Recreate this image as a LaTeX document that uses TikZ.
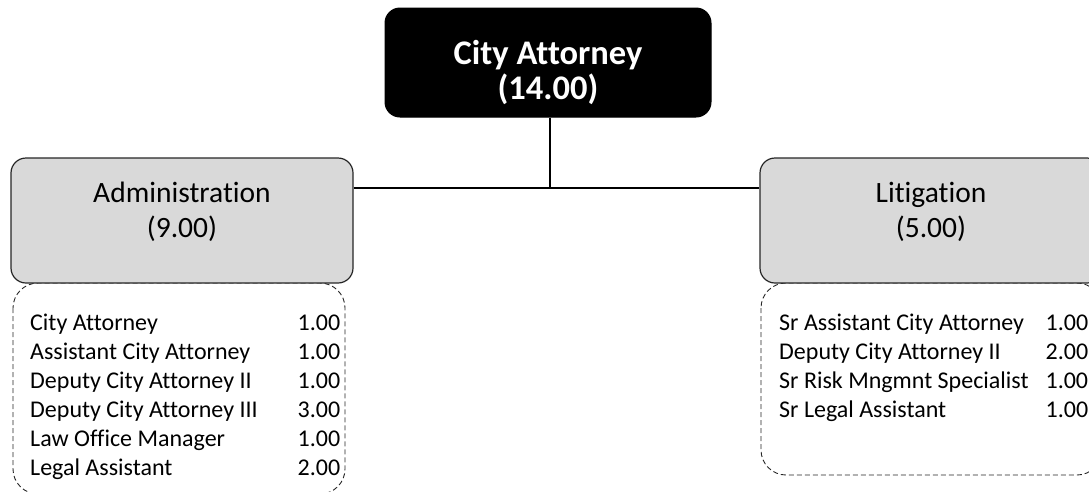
\documentclass[tikz,border=0pt]{standalone}
\usepackage{fontspec}
\setmainfont[Ligatures={NoCommon,NoRequired,NoContextual}]{Carlito}
\usepackage{array}
\begin{document}
\begin{tikzpicture}[x=1pt,y=-1pt,
  headbox/.style={draw=black, fill=black, rounded corners=15pt, line width=1pt,
    minimum width=326pt, minimum height=109pt, inner sep=0pt},
  headtext/.style={text=white, align=center, inner sep=0pt,
    font=\fontsize{34.5}{35}\selectfont\bfseries},
  unitbox/.style={draw=black!85, fill=black!15, rounded corners=15pt, line width=1.2pt,
    minimum width=342pt, minimum height=125pt, inner sep=0pt},
  unittext/.style={align=center, inner sep=0pt, font=\fontsize{29.5}{35}\selectfont},
  listframe/.style={draw=black!85, line width=0.9pt, dash pattern=on 5pt off 3pt,
    rounded corners=25pt},
  listtext/.style={anchor=base west, inner sep=0pt, font=\fontsize{24}{29}\selectfont},
  link/.style={draw=black, line width=1.3pt}]
\path[use as bounding box] (0,0) rectangle (1089,491);
\clip (0,0) rectangle (1089,491);

% position lists below each unit
\draw[listframe] (13,283) rectangle (345,494);
\draw[listframe] (761,283) rectangle (1102,475);

% head of the office
\node[headbox] (ca) at (548,62.5) {};
\node[headtext] (catext) at (548,72.5) {City Attorney\\(14.00)};

% units
\node[unitbox] (adm) at (182,220.5) {};
\node[unittext] (admtext) at (182,212) {Administration\\(9.00)};
\node[unitbox] (lit) at (931,220.5) {};
\node[unittext] (littext) at (931,212) {Litigation\\(5.00)};

% connectors
\coordinate (j) at (550,188);
\draw[link] (ca.south -| j) -- (j);
\draw[link] (adm.east |- j) -- (lit.west |- j);

% staffing lists
\node[listtext] (admlist) at (30,330) {%
  \begin{tabular*}{310pt}[t]{@{}l@{\extracolsep{\fill}}r@{}}
  City Attorney & 1.00\\
  Assistant City Attorney & 1.00\\
  Deputy City Attorney II & 1.00\\
  Deputy City Attorney III & 3.00\\
  Law Office Manager & 1.00\\
  Legal Assistant & 2.00
  \end{tabular*}};
\node[listtext] (litlist) at (779,330) {%
  \begin{tabular*}{309pt}[t]{@{}l@{\extracolsep{\fill}}r@{}}
  Sr Assistant City Attorney & 1.00\\
  Deputy City Attorney II & 2.00\\
  Sr Risk Mngmnt Specialist & 1.00\\
  Sr Legal Assistant & 1.00
  \end{tabular*}};
\end{tikzpicture}
\end{document}
